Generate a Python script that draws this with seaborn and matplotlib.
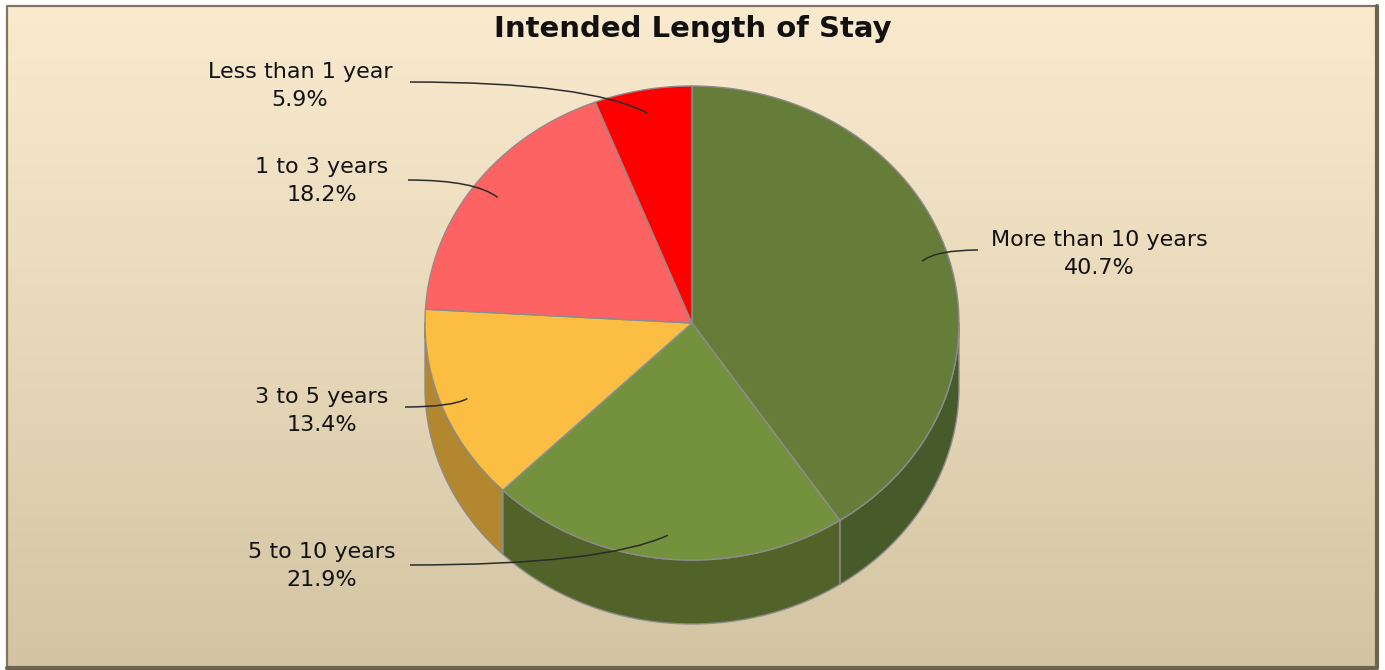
import numpy as np
import matplotlib
matplotlib.use('Agg')
import matplotlib.pyplot as plt
import seaborn as sns
from matplotlib.patches import Polygon, PathPatch
from matplotlib.path import Path
from matplotlib.colors import LinearSegmentedColormap

categories = ['More than 10 years', '5 to 10 years', '3 to 5 years', '1 to 3 years', 'Less than 1 year']
shares = [40.7, 21.9, 13.4, 18.2, 5.9]

top_colors = sns.color_palette(['#667d3a', '#74923e', '#fbbd42', '#fe6363', '#ff0000'])
side_colors = sns.color_palette(['#475a29', '#52632a', '#b3872f', '#b34646', '#b30000'])

# layout (pixels): label block centres and where each leader line starts
label_pos = [(1099, 254), (322, 566), (322, 411), (322, 181), (300, 86)]
leader_start = [(978, 250), (410, 565), (405, 407), (408, 180), (410, 82)]

sns.set_style('white')
plt.rcParams['font.family'] = ['DejaVu Sans']

fig = plt.figure(figsize=(13.85, 6.7), dpi=100)
fig.patch.set_facecolor('white')
ax = fig.add_axes([0, 0, 1, 1])

# background gradient inside the frame
grad = np.linspace(0, 1, 256).reshape(-1, 1)
bg = LinearSegmentedColormap.from_list('bg', ['#faebcf', '#d3c5a3'])
ax.imshow(grad, cmap=bg, extent=(7, 1377, 668, 6), aspect='auto', zorder=0)
ax.plot([7, 7, 1377], [668, 6, 6], color='#7d7663', lw=1.6, zorder=1)
ax.plot([1377, 1377, 7], [6, 668, 668], color='#6b6350', lw=3, zorder=1)

ax.set_xlim(0, 1385)
ax.set_ylim(670, 0)
ax.axis('off')

# pseudo 3D pie
cx, cy, rx, ry, depth = 692, 323, 267, 237, 64
frac = np.array(shares) / sum(shares)
edges = 90 - 360 * np.concatenate([[0], np.cumsum(frac)])


def ell(t, scale=1.0, dy=0):
    r = np.radians(t)
    return np.column_stack([cx + scale * rx * np.cos(r), cy - scale * ry * np.sin(r) + dy])


# side walls (front half only)
for i in range(len(shares)):
    lo = max(edges[i + 1], -180)
    hi = min(edges[i], 0)
    if hi <= lo:
        continue
    t = np.linspace(hi, lo, 120)
    pts = np.vstack([ell(t), ell(t[::-1], dy=depth)])
    ax.add_patch(Polygon(pts, closed=True, facecolor=side_colors[i],
                         edgecolor='#8c8c8c', lw=1, zorder=2))

# top face
for i in range(len(shares)):
    t = np.linspace(edges[i], edges[i + 1], 200)
    pts = np.vstack([[cx, cy], ell(t)])
    ax.add_patch(Polygon(pts, closed=True, facecolor=top_colors[i],
                         edgecolor='#8c8c8c', lw=1, zorder=3))

# labels with curved leader lines
for i, cat in enumerate(categories):
    mid = (edges[i] + edges[i + 1]) / 2
    end = ell(np.array([mid]), scale=0.9)[0]
    x0, y0 = leader_start[i]
    ctrl = (x0 + 0.75 * (end[0] - x0), y0)
    path = Path([(x0, y0), ctrl, tuple(end)], [Path.MOVETO, Path.CURVE3, Path.CURVE3])
    ax.add_patch(PathPatch(path, facecolor='none', edgecolor='#2b2b2b', lw=1.1, zorder=4))
    lx, ly = label_pos[i]
    ax.text(lx, ly, f'{cat}\n{shares[i]}%', ha='center', va='center', fontsize=16,
            linespacing=1.55, color='#111111', zorder=5)

ax.text(693, 29, 'Intended Length of Stay', ha='center', va='center',
        fontsize=21, fontweight='bold', color='#111111', zorder=5)

fig.savefig('out.png', dpi=100)
